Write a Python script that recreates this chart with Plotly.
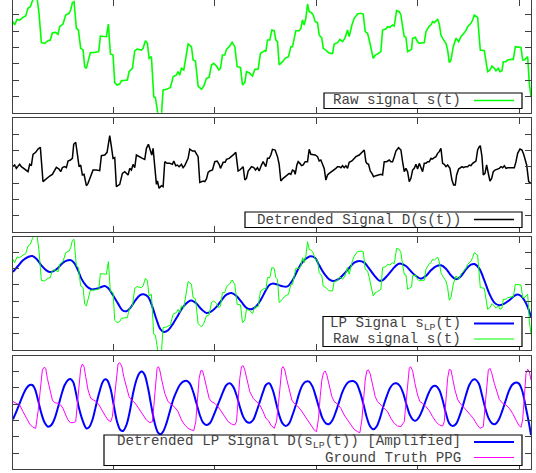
import plotly.graph_objects as go

# ---------------- data (x: sample index, y: arbitrary units) ----------------
raw_x = [0,5,12,20,30,38,45,52,58,65,
         72,78,85,95,105,112,118,128,135,140,
         150,158,168,173,178,183,190,196,203,210,
         215,220,225,232,245,257,262,272,280,286,
         292,300,305,312,320,325,338,343,348,358,
         365,372,385,390,397,403,408,415,422,427,
         435,445,450,460,472,480,490,495,500,505,
         512,517,525,535,540,547,555,565,572,580,
         588,595,602,610,617,622,628,635,640,650,
         657,665,672,682,688,695,700,708,718,725,
         735,742,755,758,763,770,776,783,788,793,
         798,808,816,826,833,838,848,858,863,868,
         873,878,883,888,895,900,906,913,918,926,
         930,938,946,953,958,963,973,980,988,995,
         1003,1008,1016,1023,1033,1043,1050,1056,1063,1068,
         1076,1080,1086,1093,1103,1108,1118,1123,1130,1138,
         1143,1150,1158,1163,1168,1173,1178,1183,1188,1195,
         1198,1206,1213,1218,1226,1233,1238,1248,1253,1258,
         1263,1268,1273,1278,1283,1288,1298,1303,1308,1313,
         1320,1328,1336,1343,1350,1358,1363,1368,1373,1378,
         1383,1393,1401,1413,1418,1423,1430,1436,1443,1448,
         1455,1460,1466,1470,1478,1483,1493,1500,1506,1513,
         1523,1528,1533,1543,1548,1553]
raw_y = [273,263,280,278,286,290,313,318,335,348,
         346,298,210,208,216,218,240,241,235,258,
         266,293,298,308,330,333,253,248,193,188,
         138,133,153,180,181,183,230,228,228,266,
         176,173,90,83,86,96,98,98,123,133,
         186,191,188,193,216,208,163,168,48,45,
         -7,-7,68,70,76,108,113,123,113,133,
         128,163,206,198,158,155,80,70,80,103,
         106,143,148,140,128,133,173,173,190,200,
         211,198,138,136,83,90,123,120,110,130,
         131,178,186,183,218,218,248,246,218,213,
         143,153,163,168,198,198,246,246,253,278,
         263,283,326,303,300,293,273,270,233,223,
         193,188,180,178,178,206,210,220,213,223,
         248,228,263,283,296,298,296,243,238,218,
         178,163,173,176,183,248,251,258,256,263,
         260,306,303,293,258,228,226,183,186,190,
         223,226,213,208,210,210,243,260,263,273,
         270,276,280,266,233,223,208,188,150,158,
         198,223,213,228,238,246,258,263,268,278,
         293,286,188,186,148,123,128,140,133,126,
         133,123,126,153,153,158,160,160,198,198,
         196,158,158,168,88,48]

det_x = [0,5,10,15,20,25,32,40,45,50,
         55,60,68,75,82,90,100,110,118,123,
         130,138,143,148,155,160,165,172,178,182,
         188,192,198,203,208,213,220,225,232,240,
         250,260,265,275,282,290,295,300,305,310,
         320,328,335,345,350,355,360,365,370,378,
         382,388,395,400,406,410,416,420,425,430,
         433,438,445,450,455,462,470,478,482,488,
         493,498,505,510,515,520,525,530,538,545,
         550,555,560,570,575,580,585,590,598,605,
         612,618,622,630,636,640,648,655,662,668,
         675,680,685,690,695,700,705,710,715,722,
         727,733,738,745,750,755,758,763,768,773,
         778,786,793,798,803,810,816,823,828,833,
         838,843,846,851,855,860,865,870,876,883,
         888,893,898,906,913,918,923,928,933,938,
         943,948,955,963,968,973,978,983,988,993,
         998,1003,1008,1016,1023,1028,1038,1046,1053,1058,
         1061,1066,1071,1076,1081,1088,1096,1103,1108,1113,
         1120,1128,1133,1138,1143,1148,1156,1163,1168,1173,
         1178,1183,1188,1193,1198,1203,1208,1213,1218,1223,
         1228,1233,1238,1243,1248,1253,1258,1263,1268,1273,
         1278,1283,1288,1293,1298,1303,1310,1316,1321,1326,
         1330,1336,1340,1346,1351,1356,1363,1368,1373,1378,
         1388,1393,1398,1401,1406,1410,1415,1420,1426,1430,
         1435,1440,1445,1453,1458,1463,1468,1473,1478,1483,
         1493,1503,1508,1513,1520,1526,1531,1536,1540,1546,
         1553]
det_y = [0,5,-5,2,7,0,-5,-10,-15,7,
         3,37,43,53,58,-45,-35,-28,-23,-13,
         -2,-7,-15,-3,0,-3,17,20,25,67,
         73,45,0,5,-25,-23,-57,-50,-30,-10,
         -10,-12,33,35,43,93,60,25,27,-60,
         -53,-20,-15,-25,-5,-10,7,-3,35,30,
         27,25,22,55,67,53,35,55,0,-53,
         -43,-65,-57,-60,15,10,10,7,17,3,
         5,0,7,-3,3,15,25,53,47,47,
         37,30,-47,-43,-45,-37,-17,-13,-10,15,
         17,7,-5,13,13,22,25,30,37,43,
         -13,-10,-5,0,-40,-35,-13,-5,0,-3,
         -10,-3,-13,5,15,5,0,25,25,35,
         52,50,30,7,-43,-35,-30,-25,-20,-23,
         -10,-13,-23,5,15,10,3,5,15,15,
         52,37,37,35,30,17,20,5,-5,-40,
         -25,-20,-15,-10,-5,0,0,-3,3,-3,
         3,-5,13,17,25,30,35,43,50,15,
         10,7,-13,-20,-30,-27,-25,-23,-25,15,
         15,20,15,15,30,47,57,50,15,-15,
         -5,-15,-45,-35,-10,-5,7,-7,10,-3,
         -15,10,10,15,15,25,23,27,30,40,
         45,55,10,7,0,5,-5,-40,-55,-55,
         -25,-7,-5,0,-3,0,0,5,3,10,
         17,50,60,63,30,-25,-20,5,-25,-43,
         -35,-15,-10,-8,-5,0,-3,3,-5,-3,
         -3,-3,15,40,53,50,37,17,5,-45,
         -50]

lp_x = [0,15,30,45,58,70,85,100,110,120,
        135,150,165,175,185,195,205,220,235,250,
        265,275,285,300,315,328,340,352,365,380,
        392,405,418,430,442,452,465,480,495,510,
        525,535,550,565,580,595,610,625,640,655,
        670,685,700,715,730,745,758,768,778,793,
        808,823,838,853,868,883,893,906,918,933,
        948,963,978,993,1008,1023,1038,1053,1068,1083,
        1098,1108,1123,1138,1153,1163,1178,1193,1208,1223,
        1238,1253,1268,1283,1298,1313,1328,1343,1358,1373,
        1383,1398,1413,1428,1443,1458,1473,1488,1503,1513,
        1523,1533,1543,1553]
lp_y = [235,253,270,280,283,275,255,240,235,237,
        247,263,270,270,260,240,215,193,183,185,
        190,193,187,165,140,120,117,127,147,165,
        168,160,130,93,63,55,60,80,105,130,
        145,149,140,123,112,117,130,150,167,172,
        163,145,127,123,133,155,180,195,200,197,
        192,192,210,240,265,278,282,277,255,230,
        213,208,215,230,247,263,268,263,245,225,
        209,210,225,243,258,260,253,237,223,215,
        223,240,252,255,245,225,213,222,243,257,
        259,245,210,170,143,135,140,150,163,167,
        163,150,130,100]

amp_x = [0,10,20,30,40,50,58,65,75,85,
         95,105,115,125,135,145,155,165,172,180,
         188,198,210,220,228,238,248,258,268,275,
         282,292,302,312,322,330,340,350,360,370,
         380,388,395,405,415,425,435,442,450,460,
         470,480,490,500,510,520,530,540,550,560,
         570,580,590,600,610,620,630,640,650,660,
         670,680,690,700,710,720,730,740,750,758,
         768,778,788,798,808,818,828,838,848,858,
         868,878,888,898,908,918,928,938,948,958,
         968,978,988,998,1008,1020,1030,1040,1050,1060,
         1070,1080,1090,1100,1110,1120,1130,1140,1150,1160,
         1170,1180,1190,1200,1208,1218,1228,1238,1248,1258,
         1268,1278,1288,1298,1308,1318,1328,1338,1348,1358,
         1368,1378,1386,1396,1406,1416,1426,1436,1446,1456,
         1466,1476,1486,1496,1506,1516,1526,1536,1546,1553]
amp_y = [-46,-23,2,27,47,57,57,47,12,-28,
         -56,-68,-63,-43,-10,27,57,72,75,67,
         37,-13,-53,-73,-70,-48,-8,32,64,74,
         72,47,-3,-53,-78,-81,-63,-23,32,72,
         94,97,87,47,-8,-58,-86,-91,-83,-58,
         -23,12,37,57,67,70,62,37,2,-33,
         -56,-63,-58,-38,-13,12,37,57,62,52,
         27,-8,-38,-53,-56,-48,-23,7,37,57,
         62,44,7,-33,-58,-66,-58,-33,-3,32,
         57,67,67,52,22,-13,-43,-58,-60,-48,
         -23,7,37,57,67,69,62,37,2,-38,
         -66,-76,-68,-43,-8,22,47,60,62,54,
         32,-3,-33,-48,-50,-38,-16,12,37,52,
         54,42,12,-28,-58,-66,-60,-38,-8,27,
         57,72,74,62,27,-13,-43,-58,-60,-48,
         -23,7,37,57,64,62,42,-3,-53,-93]

ppg_x = [0,10,20,30,40,50,60,68,75,82,
         88,93,98,103,110,118,125,135,143,150,
         158,165,172,180,188,193,198,203,208,213,
         218,225,233,240,250,258,265,275,285,293,
         298,305,310,315,320,326,332,340,348,355,
         362,370,380,390,400,410,418,422,427,432,
         436,440,446,455,465,475,485,495,505,515,
         525,535,542,548,553,558,563,568,573,580,
         588,595,605,615,625,635,645,655,665,670,
         675,680,685,690,695,702,710,720,730,740,
         750,758,766,773,783,790,796,801,806,810,
         815,820,828,836,843,853,863,873,883,893,
         903,910,916,921,926,931,936,941,948,956,
         963,973,983,993,1003,1013,1023,1033,1040,1046,
         1051,1056,1061,1066,1071,1078,1086,1093,1103,1113,
         1123,1133,1143,1153,1163,1173,1178,1183,1188,1192,
         1198,1205,1213,1220,1228,1238,1248,1258,1268,1278,
         1288,1293,1298,1303,1308,1313,1318,1325,1333,1340,
         1350,1360,1370,1380,1390,1400,1410,1415,1420,1425,
         1430,1435,1443,1451,1458,1468,1478,1488,1498,1508,
         1516,1523,1528,1533,1538,1543,1548,1553]
ppg_y = [7,2,-3,-23,-43,-60,-70,-73,-23,42,
         102,110,107,77,42,12,4,2,-3,-13,
         -33,-48,-56,-56,-53,2,67,107,120,112,
         82,42,17,12,7,-3,-16,-33,-48,-53,
         -38,32,92,120,124,114,82,52,22,12,
         7,-3,-18,-33,-48,-56,-53,-8,62,107,
         112,102,72,32,7,-1,-10,-23,-48,-63,
         -73,-78,-80,-53,12,77,100,100,82,47,
         17,7,2,-8,-23,-38,-53,-60,-63,-53,
         12,77,112,115,102,67,37,17,7,-3,
         -23,-43,-50,-63,-73,-53,2,67,107,112,
         102,77,42,12,2,-6,-18,-33,-48,-63,
         -78,-83,-43,22,72,94,99,87,52,22,
         7,0,-13,-33,-48,-63,-76,-83,-86,-48,
         22,72,100,102,90,57,22,7,-3,-10,
         -23,-43,-58,-66,-68,-53,2,62,107,112,
         100,62,27,7,2,-8,-20,-38,-53,-63,
         -66,-53,12,77,104,102,77,42,14,2,
         -8,-20,-33,-43,-60,-73,-68,-8,67,102,
         107,94,62,32,14,2,-3,-13,-28,-48,
         -63,-70,-48,22,92,104,97,72]

x_ticks = [300, 604.5, 909, 1213.5, 1518]
raw_ticks = [49, 98, 147, 196, 245, 294]
ac_ticks = [-147, -98, -49, 0, 49, 98]

GREEN = "#00ff00"
BLUE = "#0000ff"
MAGENTA = "#ff00ff"
BLACK = "#000000"

W, H = 536, 473
ML, MR = 13, 5

fig = go.Figure()
fig.add_trace(go.Scatter(x=raw_x, y=raw_y, mode="lines", line=dict(color=GREEN, width=1.6),
                         xaxis="x", yaxis="y", showlegend=False))
fig.add_trace(go.Scatter(x=det_x, y=det_y, mode="lines", line=dict(color=BLACK, width=1.5),
                         xaxis="x2", yaxis="y2", showlegend=False))
fig.add_trace(go.Scatter(x=lp_x, y=lp_y, mode="lines", line=dict(color=BLUE, width=2, shape="spline"),
                         xaxis="x3", yaxis="y3", showlegend=False))
fig.add_trace(go.Scatter(x=raw_x, y=raw_y, mode="lines", line=dict(color=GREEN, width=1),
                         xaxis="x3", yaxis="y3", showlegend=False))
fig.add_trace(go.Scatter(x=amp_x, y=amp_y, mode="lines", line=dict(color=BLUE, width=2, shape="spline"),
                         xaxis="x4", yaxis="y4", showlegend=False))
fig.add_trace(go.Scatter(x=ppg_x, y=ppg_y, mode="lines", line=dict(color=MAGENTA, width=1),
                         xaxis="x4", yaxis="y4", showlegend=False))

frame = dict(showline=True, linecolor="#404040", linewidth=1, mirror="allticks",
             ticks="inside", ticklen=6, tickcolor="#404040", tickwidth=1,
             showticklabels=False, showgrid=False, zeroline=False, fixedrange=True)

def py(p):
    return (H - p) / H

def px(p):
    return (p - ML) / (W - ML - MR)

panels = [
    ("", [0.0, 338.0], raw_ticks, (0.0, 112.7)),
    ("2", [-195.0, 146.0], ac_ticks, (118.0, 231.7)),
    ("3", [0.0, 341.0], raw_ticks, (236.7, 350.2)),
    ("4", [-193.5, 145.5], ac_ticks, (355.5, 468.5)),
]
layout_axes = {}
for suf, yr, yt, (top, bot) in panels:
    layout_axes["xaxis" + suf] = dict(frame, domain=[0, 1], range=[0, 1553], tickvals=x_ticks,
                                      anchor="y" + suf)
    layout_axes["yaxis" + suf] = dict(frame, domain=[py(bot), py(top)], range=yr, tickvals=yt,
                                      anchor="x" + suf)

# gnuplot-style keys: text right-aligned, sample line to its right, boxed
keys = [
    ((324, 93, 522, 108.5), [("Raw signal s(t)", GREEN, 1.6, 100.5)]),
    ((245, 212, 522, 227.5), [("Detrended Signal D(s(t))", BLACK, 1.5, 219.5)]),
    ((323, 316.5, 522, 346.5), [("LP Signal s<sub>LP</sub>(t)", BLUE, 2, 323.5),
                                ("Raw signal s(t)", GREEN, 1, 339)]),
    ((104, 435, 522, 465.5), [("Detrended LP Signal D(s<sub>LP</sub>(t)) [Amplified]", BLUE, 2, 442),
                              ("Ground Truth PPG", MAGENTA, 1, 457.5)]),
]
shapes = []
annotations = []
FONT = dict(family="Liberation Mono, Courier New, monospace", size=14.2, color="#444444")
for (x0, y0, x1, y1), rows in keys:
    shapes.append(dict(type="rect", xref="paper", yref="paper", x0=px(x0), x1=px(x1),
                       y0=py(y1), y1=py(y0), line=dict(color="#000000", width=1.2),
                       fillcolor="white", layer="above"))
    for text, color, width, yc in rows:
        shapes.append(dict(type="line", xref="paper", yref="paper", x0=px(474), x1=px(514),
                           y0=py(yc), y1=py(yc), line=dict(color=color, width=width), layer="above"))
        annotations.append(dict(text=text, xref="paper", yref="paper", x=px(463), y=py(yc),
                                xanchor="right", yanchor="middle", showarrow=False, font=FONT))

fig.update_layout(
    width=W, height=H,
    margin=dict(l=ML, r=MR, t=0, b=0, pad=0),
    paper_bgcolor="white", plot_bgcolor="white",
    showlegend=False,
    shapes=shapes, annotations=annotations,
    **layout_axes,
)

fig.write_html("out.html",
               config={"displayModeBar": False, "staticPlot": True},
               post_script="document.body.style.margin='0';document.body.style.padding='0';"
                           "document.documentElement.style.overflow='hidden';")
